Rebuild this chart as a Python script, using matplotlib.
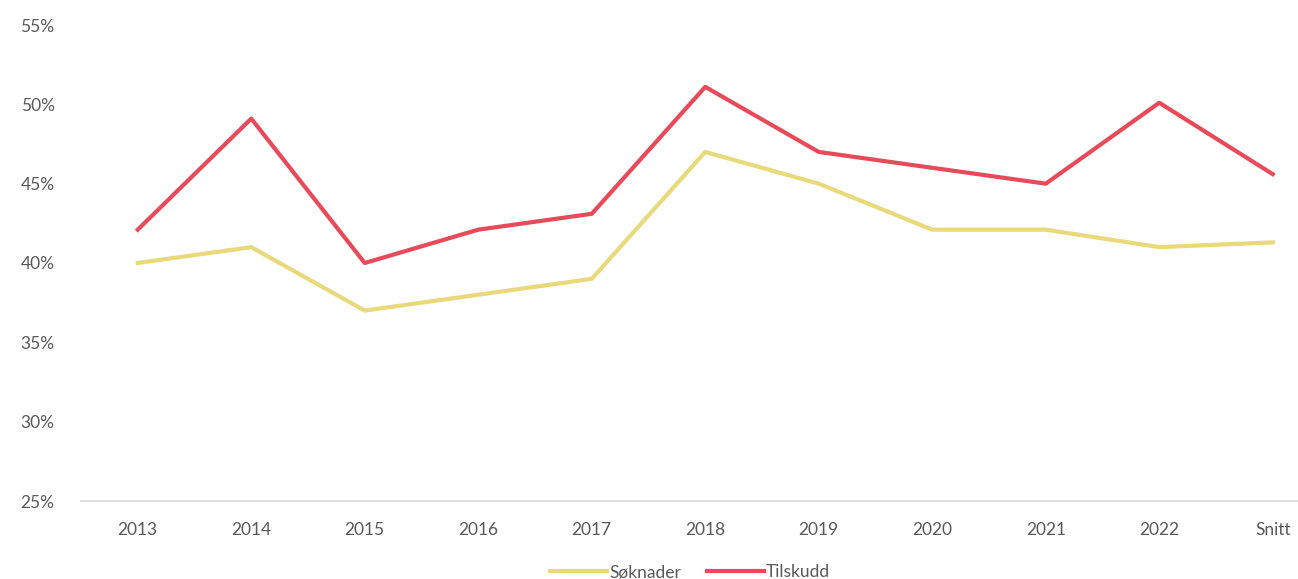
import matplotlib.pyplot as plt
from matplotlib.ticker import FuncFormatter

# ======== Data ========
categories = ['2013', '2014', '2015', '2016', '2017', '2018', '2019', '2020', '2021', '2022', 'Snitt']
soknader = [40.0, 41.0, 37.0, 38.0, 39.0, 47.0, 45.0, 42.1, 42.1, 41.0, 41.3]
tilskudd = [42.1, 49.1, 40.0, 42.1, 43.1, 51.1, 47.0, 46.0, 45.0, 50.1, 45.6]

TEXT = '#595959'
plt.rcParams['font.family'] = ['Lato', 'DejaVu Sans']

W, H = 1298, 579
fig = plt.figure(figsize=(W / 100, H / 100), dpi=100)
# axes run slightly past the right edge, as in the reference
left, right = 81 / W, (81 + 11 * 113.5) / W
bottom, top = 1 - 501 / H, 1 - 25 / H
ax = fig.add_axes([left, bottom, right - left, top - bottom])

x = range(len(categories))
ax.plot(x, soknader, color='#E8D97A', lw=3, label='Søknader', solid_joinstyle='round')
ax.plot(x, tilskudd, color='#E84A5A', lw=3, label='Tilskudd', solid_joinstyle='round')

ax.set_xlim(-0.5, len(categories) - 0.5)
ax.set_ylim(25, 55)
ax.set_yticks(range(25, 56, 5))
ax.yaxis.set_major_formatter(FuncFormatter(lambda v, _: f'{v:.0f}%'))
ax.set_xticks(list(x))
ax.set_xticklabels(categories)

for s in ['top', 'right', 'left']:
    ax.spines[s].set_visible(False)
ax.spines['bottom'].set_color('#D9D9D9')
ax.spines['bottom'].set_linewidth(1.2)
ax.tick_params(length=0, labelsize=12.5, colors=TEXT)
ax.tick_params(axis='y', pad=19)
ax.tick_params(axis='x', pad=15)

leg = fig.legend(loc='center', bbox_to_anchor=(690 / W, 1 - 572 / H), ncol=2,
                 frameon=False, fontsize=12.5, handlelength=3.3, handletextpad=0.1,
                 columnspacing=1.5)
for t in leg.get_texts():
    t.set_color(TEXT)

fig.savefig('out.png', dpi=100)
